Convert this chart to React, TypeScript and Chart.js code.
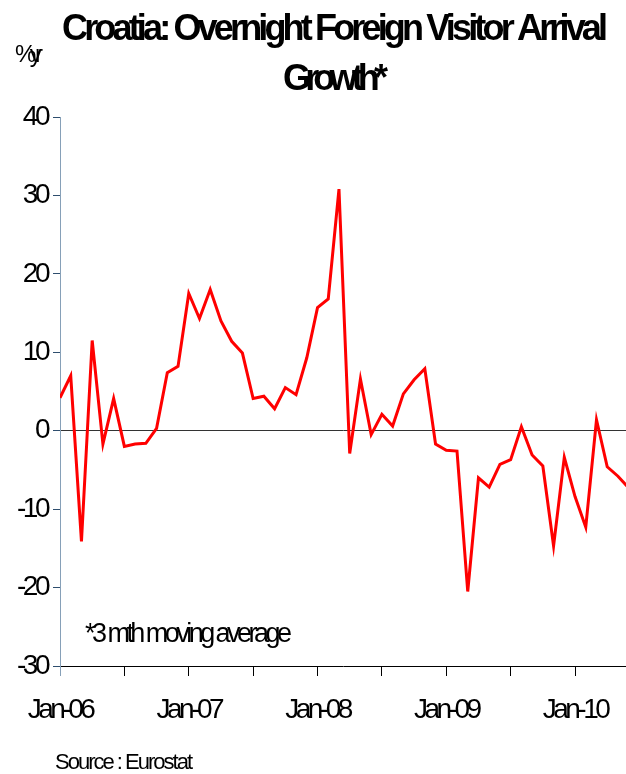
import React, { useEffect, useRef } from 'react';
import { Chart, registerables } from 'chart.js';

Chart.register(...registerables);

// Monthly data, Jan-06 .. Jun-10 (3 month moving average, % y/y)
const GROWTH: number[] = [
  4.2, 7.0, -14.1, 11.5, -1.7, 4.1, -2.0, -1.7, -1.6, 0.3, 7.4, 8.2,
  17.5, 14.3, 18.0, 14.0, 11.4, 9.9, 4.1, 4.4, 2.8, 5.5, 4.6, 9.3,
  15.7, 16.8, 30.8, -2.9, 6.6, -0.5, 2.1, 0.6, 4.7, 6.5, 7.9, -1.7,
  -2.5, -2.6, -20.5, -6.0, -7.2, -4.3, -3.7, 0.5, -3.1, -4.5, -14.7, -3.4,
  -8.4, -12.3, 1.4, -4.6, -5.8, -7.3,
];
const YEAR_LABELS: string[] = ['Jan-06', 'Jan-07', 'Jan-08', 'Jan-09', 'Jan-10'];
const Y_MIN = -30;
const Y_MAX = 40;
const Y_STEP = 10;
const X_STEP = 6;
const X_MAX = 52.75;
const TITLE_LINES: string[] = ['Croatia: Overnight Foreign Visitor Arrival', 'Growth*'];
const Y_UNIT = '%yr';
const NOTE = '*3 mth moving average';
const SOURCE = 'Source : Eurostat';

const FONT = '"Liberation Sans", Arial, sans-serif';
const AXIS_BLUE = '#86a0b8';

function fitText(
  ctx: CanvasRenderingContext2D,
  text: string,
  x: number,
  y: number,
  width: number,
  font: string,
) {
  ctx.save();
  ctx.font = font;
  (ctx as any).letterSpacing = '0px';
  const w0 = ctx.measureText(text).width;
  const ls = (width - w0) / Math.max(1, text.length - 1);
  (ctx as any).letterSpacing = ls + 'px';
  ctx.textAlign = 'left';
  ctx.textBaseline = 'alphabetic';
  ctx.fillStyle = '#000';
  ctx.fillText(text, x, y);
  ctx.restore();
}

const textPlugin = {
  id: 'customText',
  beforeDraw(chart: any) {
    (chart.ctx as any).letterSpacing = '-3.5px';
  },
  afterDraw(chart: any) {
    const ctx = chart.ctx as CanvasRenderingContext2D;
    fitText(ctx, TITLE_LINES[0], 62, 40, 546, `bold 36px ${FONT}`);
    fitText(ctx, TITLE_LINES[1], 283, 90, 105, `bold 36px ${FONT}`);
    fitText(ctx, Y_UNIT, 15, 62, 28, `24px ${FONT}`);
    fitText(ctx, NOTE, 85, 642, 207, `27px ${FONT}`);
    fitText(ctx, SOURCE, 55, 769, 138, `22px ${FONT}`);
  },
};

export default function App() {
  const ref = useRef<HTMLCanvasElement | null>(null);

  useEffect(() => {
    document.body.style.margin = '0';
    const canvas = ref.current;
    if (!canvas) return;
    const chart = new Chart(canvas, {
      type: 'line',
      data: {
        datasets: [
          {
            data: GROWTH.map((v, i) => ({ x: i, y: v })),
            borderColor: '#ff0000',
            borderWidth: 3,
            pointRadius: 0,
            tension: 0,
            fill: false,
          },
        ],
      },
      options: {
        responsive: false,
        animation: false,
        devicePixelRatio: 1,
        layout: { padding: { top: 117, right: 0, bottom: 0, left: 0 } },
        plugins: {
          legend: { display: false },
          tooltip: { enabled: false },
          title: { display: false },
        },
        scales: {
          x: {
            type: 'linear',
            min: 0,
            max: X_MAX,
            afterFit: (s: any) => {
              s.height = 108;
              s.paddingLeft = 0;
              s.paddingRight = 0;
            },
            ticks: {
              stepSize: X_STEP,
              includeBounds: false,
              autoSkip: false,
              maxRotation: 0,
              minRotation: 0,
              padding: 17,
              color: '#000',
              font: { family: FONT, size: 28 },
              callback: (v: any) => {
                const n = Number(v);
                return n % 12 === 0 ? YEAR_LABELS[n / 12] ?? '' : '';
              },
            },
            grid: {
              drawOnChartArea: false,
              tickLength: 10,
              color: '#000',
              tickColor: (c: any) => (c.index === 0 ? AXIS_BLUE : '#000'),
            },
            border: { color: '#000', width: 1 },
          },
          y: {
            min: Y_MIN,
            max: Y_MAX,
            afterFit: (s: any) => {
              s.width = 60;
              s.paddingTop = 0;
              s.paddingBottom = 0;
            },
            ticks: {
              stepSize: Y_STEP,
              padding: 6,
              color: '#000',
              font: { family: FONT, size: 28 },
            },
            grid: {
              color: (c: any) => (c.tick && c.tick.value === 0 ? '#333333' : 'rgba(0,0,0,0)'),
              tickColor: '#2e4e6e',
              tickLength: 7,
            },
            border: { color: AXIS_BLUE, width: 1 },
          },
        },
      } as any,
      plugins: [textPlugin],
    });
    return () => chart.destroy();
  }, []);

  return (
    <div style={{ width: 626, height: 774, position: 'relative', background: '#fff' }}>
      <canvas ref={ref} width={626} height={774} style={{ display: 'block' }} />
    </div>
  );
}
